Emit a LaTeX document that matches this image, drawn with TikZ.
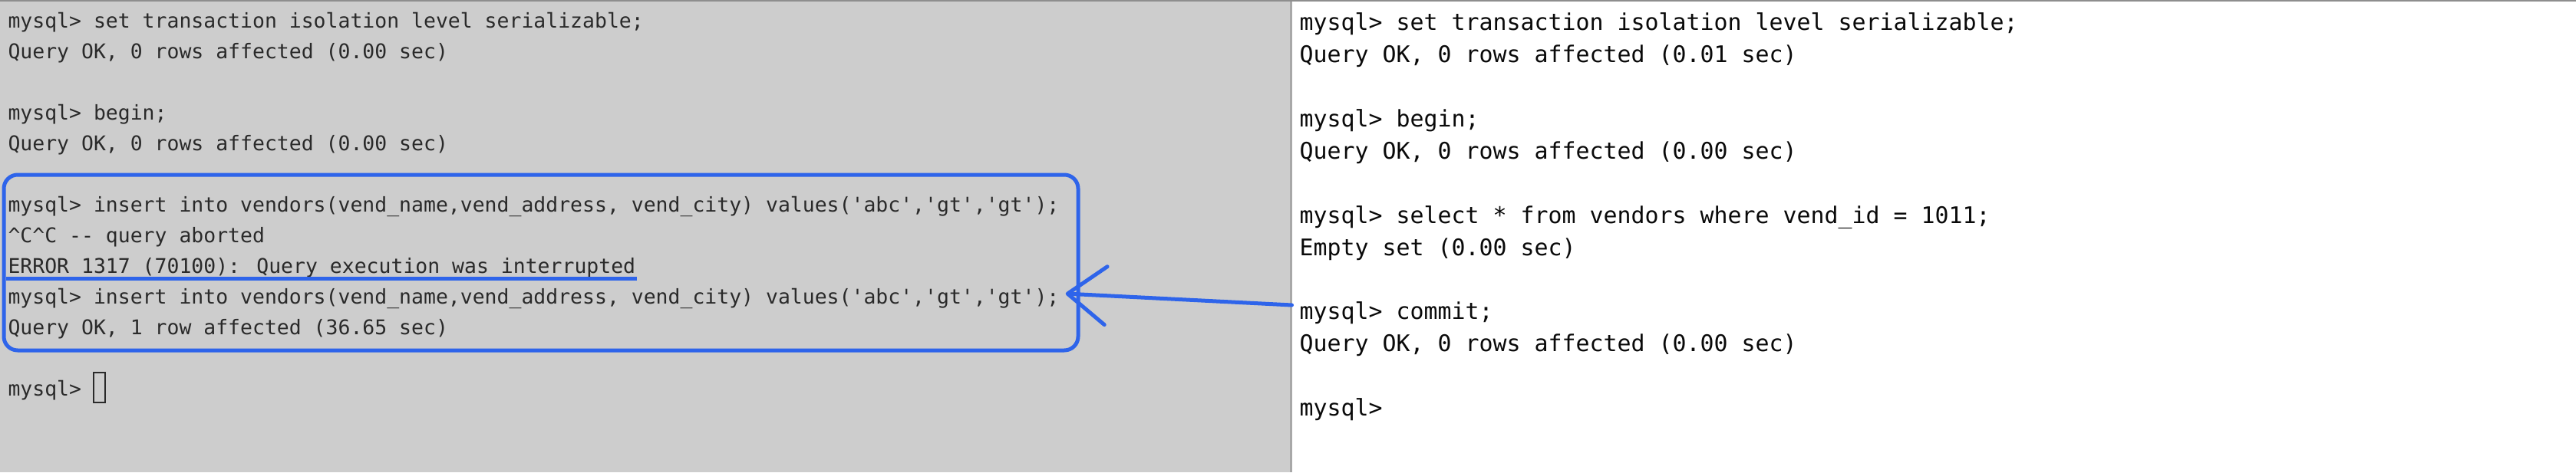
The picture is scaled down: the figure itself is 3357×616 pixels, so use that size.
\documentclass[tikz,border=0pt]{standalone}
\usepackage{fontspec}
\usetikzlibrary{arrows.meta,calc}
\newfontfamily\termfont{DejaVu Sans Mono}
\definecolor{leftbg}{HTML}{CDCDCD}
\definecolor{lefttext}{HTML}{2A2A2A}
\definecolor{righttext}{HTML}{0A0A0A}
\definecolor{annot}{HTML}{2E64EA}
\definecolor{divider}{HTML}{A8A8A8}
\definecolor{topline}{HTML}{8E8E8E}
\newcommand{\q}{\textquotesingle}
\begin{document}
\begin{tikzpicture}[x=1pt,y=-1pt,
  lline/.style={anchor=base west,inner sep=0pt,text=lefttext,
    font=\termfont\fontsize{26.46pt}{40pt}\selectfont},
  rline/.style={anchor=base west,inner sep=0pt,text=righttext,
    font=\termfont\fontsize{29.9pt}{42pt}\selectfont},
  hlbox/.style={draw=annot,line width=5pt,rounded corners=18pt,inner sep=0pt,
    minimum width=1400pt,minimum height=229pt},
  hlline/.style={draw=annot,line width=5pt},
  arrowline/.style={draw=annot,line width=5pt,line join=round,line cap=round,
    -{Straight Barb[length=50pt,width=76pt,line join=round,line cap=round]}},
  cursorbox/.style={draw=lefttext,line width=1.6pt,inner sep=0pt,
    minimum width=15pt,minimum height=39pt}
]
\useasboundingbox (0,0) rectangle (3357,616);
% panels
\fill[leftbg] (0,0) rectangle (1682,616);
\fill[white] (1682,0) rectangle (3357,616);
\draw[divider,line width=3pt] (1682,0) -- (1682,616);
\draw[topline,line width=2.5pt] (0,1) -- (3357,1);
% left terminal
\node[lline] (L1) at (10.3,36) {mysql> set transaction isolation level serializable;};
\node[lline] (L2) at (10.3,76) {Query OK, 0 rows affected (0.00 sec)};
\node[lline] (L4) at (10.3,156) {mysql> begin;};
\node[lline] (L5) at (10.3,196) {Query OK, 0 rows affected (0.00 sec)};
\node[lline] (L7) at (10.3,276) {mysql> insert into vendors(vend\_name,vend\_address, vend\_city) values(\q abc\q,\q gt\q,\q gt\q);};
\node[lline] (L8) at (10.3,316) {\textasciicircum C\textasciicircum C -{}- query aborted};
\node[lline] (L9) at (10.3,356) {ERROR 1317 (70100): Query execution was interrupted};
\node[lline] (L10) at (10.3,396) {mysql> insert into vendors(vend\_name,vend\_address, vend\_city) values(\q abc\q,\q gt\q,\q gt\q);};
\node[lline] (L11) at (10.3,436) {Query OK, 1 row affected (36.65 sec)};
\node[lline] (L13) at (10.3,516) {mysql>};
\node[cursorbox] (cur) at (129.5,505.5) {};
% right terminal
\node[rline] (R1) at (1693.5,39) {mysql> set transaction isolation level serializable;};
\node[rline] (R2) at (1693.5,81) {Query OK, 0 rows affected (0.01 sec)};
\node[rline] (R4) at (1693.5,165) {mysql> begin;};
\node[rline] (R5) at (1693.5,207) {Query OK, 0 rows affected (0.00 sec)};
\node[rline] (R7) at (1693.5,291) {mysql> select * from vendors where vend\_id = 1011;};
\node[rline] (R8) at (1693.5,333) {Empty set (0.00 sec)};
\node[rline] (R10) at (1693.5,416) {mysql> commit;};
\node[rline] (R11) at (1693.5,458) {Query OK, 0 rows affected (0.00 sec)};
\node[rline] (R13) at (1693.5,542) {mysql>};
% annotations
\node[hlbox] (hl) at (705,342.5) {};
\draw[hlline] ($(L9.base west)+(-2,7)$) -- ($(L9.base east)+(2,7)$);
\coordinate (tip) at ($(L10.base east)+(8,-13)$);
\coordinate (from) at ($(R10.base west)+(-10,-18)$);
\draw[arrowline] (from) -- (tip);
\end{tikzpicture}
\end{document}
